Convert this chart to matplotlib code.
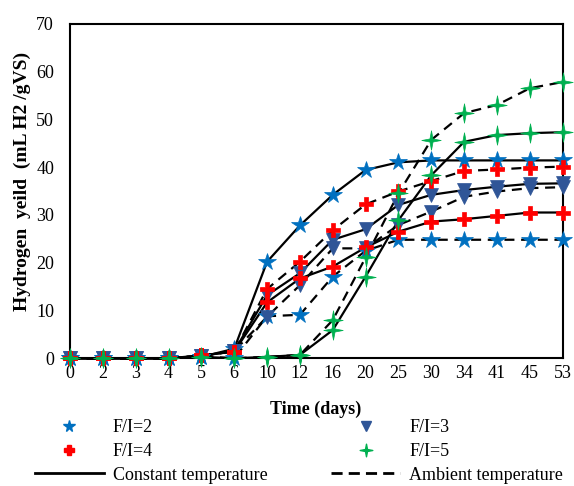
import matplotlib
matplotlib.use("Agg")
import matplotlib.pyplot as plt
from matplotlib.path import Path
from matplotlib.lines import Line2D
import numpy as np

days = ["0", "2", "3", "4", "5", "6", "10", "12", "16", "20", "25", "30", "34", "41", "45", "53"]

fi2_const = [0, 0, 0, 0, 0.3, 2.0, 20.2, 27.8, 34.2, 39.4, 41.0, 41.4, 41.4, 41.4, 41.4, 41.4]
fi2_amb = [0, 0, 0, 0, 0.3, 0, 8.8, 9.1, 17.1, 22.5, 24.8, 24.8, 24.8, 24.8, 24.8, 24.8]
fi3_const = [0, 0, 0, 0, 0.5, 1.5, 13.2, 17.8, 24.8, 27.0, 32.1, 34.2, 35.2, 35.9, 36.5, 36.6]
fi3_amb = [0, 0, 0, 0, 0.5, 1.5, 8.7, 15.3, 23.0, 23.0, 27.9, 30.7, 33.8, 34.9, 35.6, 35.8]
fi4_const = [0, 0, 0, 0, 0.6, 1.4, 11.7, 16.7, 19.2, 23.2, 26.5, 28.6, 29.1, 29.8, 30.5, 30.5]
fi4_amb = [0, 0, 0, 0, 0.6, 1.4, 14.5, 20.2, 26.8, 32.2, 34.9, 37.1, 39.2, 39.5, 39.9, 40.1]
fi5_const = [0, 0, 0, 0, 0.3, 0, 0.3, 0.7, 5.9, 17.1, 28.9, 38.3, 45.3, 46.7, 47.1, 47.3]
fi5_amb = [0, 0, 0, 0, 0.3, 0, 0.3, 0.7, 8.0, 21.1, 34.5, 45.7, 51.3, 53.0, 56.5, 57.8]

series_labels = ["F/I=2", "F/I=3", "F/I=4", "F/I=5"]
line_labels = ["Constant temperature", "Ambient temperature"]

plt.rcParams['font.family'] = ['Liberation Serif', 'DejaVu Serif']

# 4-point sparkle marker
s = 0.16
verts = [(0, 1), (s, s), (1, 0), (s, -s), (0, -1), (-s, -s), (-1, 0), (-s, s), (0, 1)]
codes = [Path.MOVETO] + [Path.LINETO] * 7 + [Path.CLOSEPOLY]
sparkle = Path(verts, codes)

styles = [
    dict(marker='*', color='#0070C0', ms=13),
    dict(marker='v', color='#2F5597', ms=10),
    dict(marker='P', color='#FF0000', ms=10),
    dict(marker=sparkle, color='#00B050', ms=14),
]

fig = plt.figure(figsize=(5.74, 4.86), dpi=100)
ax = fig.add_axes([70 / 574, 1 - 358.3 / 486, 492.7 / 574, 334.6 / 486])

x = np.arange(len(days))
consts = [fi2_const, fi3_const, fi4_const, fi5_const]
ambs = [fi2_amb, fi3_amb, fi4_amb, fi5_amb]

dash = (0, (4.5, 3))
for st, c, a in zip(styles, consts, ambs):
    ax.plot(x, c, color='black', lw=1.6, zorder=2, clip_on=False)
    ax.plot(x, a, color='black', lw=1.6, ls=dash, zorder=2, clip_on=False)
for st, c, a in zip(styles, consts, ambs):
    for vals in (c, a):
        ax.plot(x, vals, ls='none', marker=st['marker'], ms=st['ms'],
                mfc=st['color'], mec=st['color'], mew=0.5, zorder=3, clip_on=False)

ax.set_xlim(0, len(days) - 1)
ax.set_ylim(0, 70)
ax.set_xticks(x)
ax.set_xticklabels(days)
ax.set_yticks(np.arange(0, 71, 10))
ax.tick_params(axis='both', length=0, labelsize=13)
ax.tick_params(axis='y', pad=11.5)
ax.tick_params(axis='x', pad=5)
for sp in ax.spines.values():
    sp.set_linewidth(1.5)
    sp.set_color('black')

fig.text(22 / 574, 1 - 181 / 486, "Hydrogen  yeild  (mL H2 /gVS)", rotation=90,
         ha='center', va='center', fontsize=14, fontweight='bold')
fig.text(316 / 574, 1 - 409 / 486, "Time (days)", ha='center', va='center',
         fontsize=13, fontweight='bold')

def mh(st):
    return Line2D([], [], ls='none', marker=st['marker'], ms=st['ms'] * 0.65,
                  mfc=st['color'], mec=st['color'])

handles = [mh(styles[0]), mh(styles[2]),
           Line2D([], [], color='black', lw=2),
           mh(styles[1]), mh(styles[3]),
           Line2D([], [], color='black', lw=2, ls=(0, (4, 2.2)))]
labels = [series_labels[0], series_labels[2], line_labels[0],
          series_labels[1], series_labels[3], line_labels[1]]
fig.legend(handles, labels, ncol=2, loc='upper left',
           bbox_to_anchor=(35 / 574, 1 - 419 / 486), frameon=False,
           fontsize=13, handlelength=3.8, handletextpad=0.5,
           columnspacing=3.55, labelspacing=0.38, borderpad=0, borderaxespad=0)

fig.savefig("out.png", dpi=100)
